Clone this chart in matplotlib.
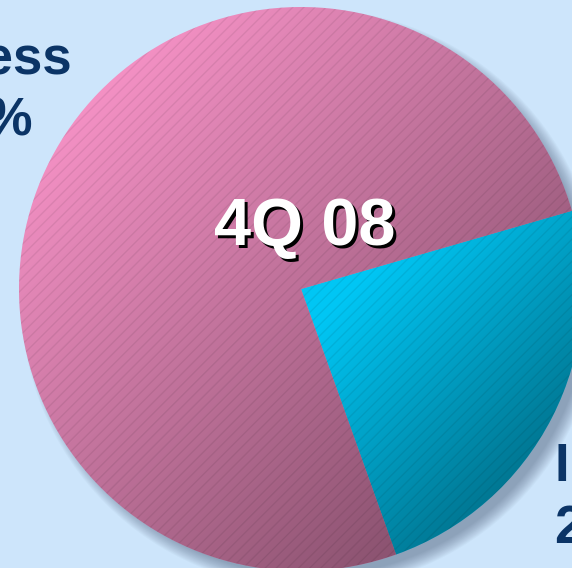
import numpy as np
import matplotlib
matplotlib.use('Agg')
import matplotlib.pyplot as plt
from matplotlib.patches import Circle

# ---- data ----
categories = ['Access', 'IP']
values = [76, 24]
pct_labels = ['76%', '24%']
period_label = '4Q 08'

# ---- style ----
W, H = 572, 568
BG = '#cde5fb'
PINK = '#f692c6'
CYAN = '#00c6f4'
NAVY = '#0b3466'
plt.rcParams['font.family'] = ['Liberation Sans', 'DejaVu Sans']

fig = plt.figure(figsize=(W / 100, H / 100), dpi=100)
fig.patch.set_facecolor(BG)
ax = fig.add_axes([0, 0, 1, 1])

cx, cy, r = 301, H - 289, 282

# soft drop shadow toward bottom-right
for k in range(14):
    ax.add_patch(Circle((cx + 10, cy - 10), r + 8 - k, facecolor='#3a4a66',
                        alpha=0.035, lw=0, zorder=1))

wedges, _ = ax.pie([values[1], values[0]], colors=[CYAN, PINK],
                   startangle=-70.3, counterclock=True,
                   center=(cx, cy), radius=r,
                   wedgeprops=dict(linewidth=0))
for w in wedges:
    w.set_zorder(2)
cyan_w, pink_w = wedges

# faint diagonal hatch
hatch = Circle((cx, cy), r, facecolor='none', edgecolor=(0, 0, 0, 0.07),
               lw=0, hatch='///', zorder=3)
ax.add_patch(hatch)

# shading gradients, one per wedge (light top-left, darker bottom-right)
yy, xx = np.mgrid[0:H, 0:W]
s = (xx + yy).astype(float)
for wedge, s0, s1, amax in [(pink_w, 170, 830, 0.37), (cyan_w, 640, 970, 0.38)]:
    img = np.zeros((H, W, 4))
    img[..., 3] = np.clip(amax * (s - s0) / (s1 - s0), 0, amax * 1.15)
    im = ax.imshow(img, extent=(0, W, 0, H), origin='upper', zorder=4,
                   interpolation='bilinear')
    im.set_clip_path(wedge)

# centre label with shadow
tx, ty = 305, H - 228
ax.text(tx + 3, ty - 3, period_label, fontsize=48, fontweight='bold',
        color='black', ha='center', va='center', zorder=5)
ax.text(tx, ty, period_label, fontsize=48, fontweight='bold',
        color='white', ha='center', va='center', zorder=6)

# outside labels (partly cut off by the frame)
lx = -20
ax.text(lx, H - 73, categories[0], fontsize=38, fontweight='bold', color=NAVY,
        ha='center', va='baseline', zorder=6)
ax.text(lx, H - 135, pct_labels[0], fontsize=38, fontweight='bold', color=NAVY,
        ha='center', va='baseline', zorder=6)
rx = 554
ax.text(rx, H - 481, categories[1], fontsize=38, fontweight='bold', color=NAVY,
        ha='left', va='baseline', zorder=6)
ax.text(rx, H - 543, pct_labels[1], fontsize=38, fontweight='bold', color=NAVY,
        ha='left', va='baseline', zorder=6)

ax.set_xlim(0, W)
ax.set_ylim(0, H)
ax.set_aspect('auto')
ax.axis('off')
fig.savefig('out.png', dpi=100, facecolor=BG)
